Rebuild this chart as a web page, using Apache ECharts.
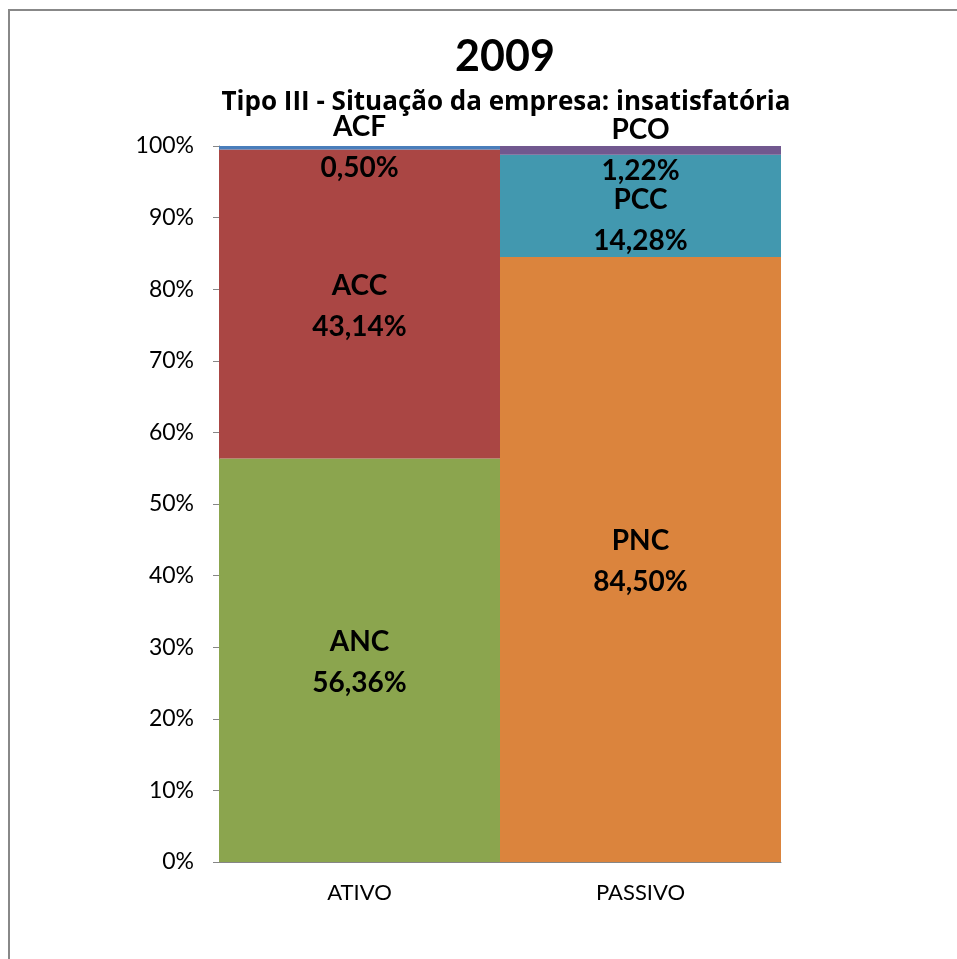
<!DOCTYPE html>
<html>
<head>
<meta charset="utf-8">
<script src="https://cdn.jsdelivr.net/npm/echarts@6/dist/echarts.min.js"></script>
<style>
  html, body { margin: 0; padding: 0; background: #fff; }
  #chart { width: 957px; height: 959px; }
</style>
</head>
<body>
<div id="chart"></div>
<script>
// dados do gráfico (2009)
var categorias = ['ATIVO', 'PASSIVO'];
var ativoNomes = ['ANC', 'ACC', 'ACF'];
var ativoValores = [56.36, 43.14, 0.50];
var passivoNomes = ['PNC', 'PCC', 'PCO'];
var passivoValores = [84.50, 14.28, 1.22];
var cores = {
	ANC: '#8BA54E', ACC: '#AA4644', ACF: '#4A7EBB',
	PNC: '#DB843D', PCC: '#4298AF', PCO: '#71588F'
};
// deslocamento vertical dos rótulos (como no Excel)
var deslocRotulo = { PCC: 15, ACC: 2, ANC: 2, PNC: 2 };

function fmt(v) {
	return v.toFixed(2).replace('.', ',') + '%';
}

function serie(nome, valor, idx) {
	var data = ['-', '-'];
	data[idx] = valor;
	return {
		name : nome,
		type : 'bar',
		stack : 'total',
		barWidth : '100%',
		itemStyle : { color : cores[nome] },
		label : {
			show : true,
			position : 'inside',
			offset : [ 0, deslocRotulo[nome] || 0 ],
			fontFamily : 'Lato',
			fontWeight : 'bold',
			fontSize : 28,
			lineHeight : 41,
			color : '#000',
			formatter : function (p) {
				return p.seriesName + '\n' + fmt(p.value);
			}
		},
		data : data
	};
}

var series = [];
ativoNomes.forEach(function (n, i) { series.push(serie(n, ativoValores[i], 0)); });
passivoNomes.forEach(function (n, i) { series.push(serie(n, passivoValores[i], 1)); });

var myChart = echarts.init(document.getElementById('chart'));
var option = {
	animation : false,
	title : [ {
		text : '2009',
		left : 500,
		textAlign : 'center',
		top : 31,
		textStyle : { fontFamily : 'Lato', fontWeight : 'bold', fontSize : 43, color : '#000' }
	}, {
		text : 'Tipo III - Situação da empresa: insatisfatória',
		left : 501,
		textAlign : 'center',
		top : 85,
		textStyle : { fontFamily : 'Open Sans', fontWeight : 'bold', fontSize : 26, color : '#000' }
	} ],
	graphic : [ {
		type : 'rect',
		shape : { x : 9, y : 10, width : 1000, height : 1000 },
		style : { fill : 'none', stroke : '#888', lineWidth : 2 },
		silent : true
	} ],
	grid : { left : 219, right : 176, top : 146, bottom : 97 },
	xAxis : {
		type : 'category',
		data : categorias,
		axisLine : { lineStyle : { color : '#868686', width : 1 } },
		axisTick : { length : 6, lineStyle : { color : '#868686' } },
		axisLabel : { fontFamily : 'Lato', fontSize : 22, color : '#000', margin : 20 }
	},
	yAxis : {
		type : 'value',
		min : 0,
		max : 100,
		interval : 10,
		splitLine : { show : false },
		axisLine : { show : true, lineStyle : { color : '#868686', width : 1 } },
		axisTick : { show : true, length : 6, lineStyle : { color : '#868686' } },
		axisLabel : { fontFamily : 'Lato', fontSize : 23, color : '#000', margin : 25, formatter : '{value}%' }
	},
	series : series
};
myChart.setOption(option);
</script>
</body>
</html>
